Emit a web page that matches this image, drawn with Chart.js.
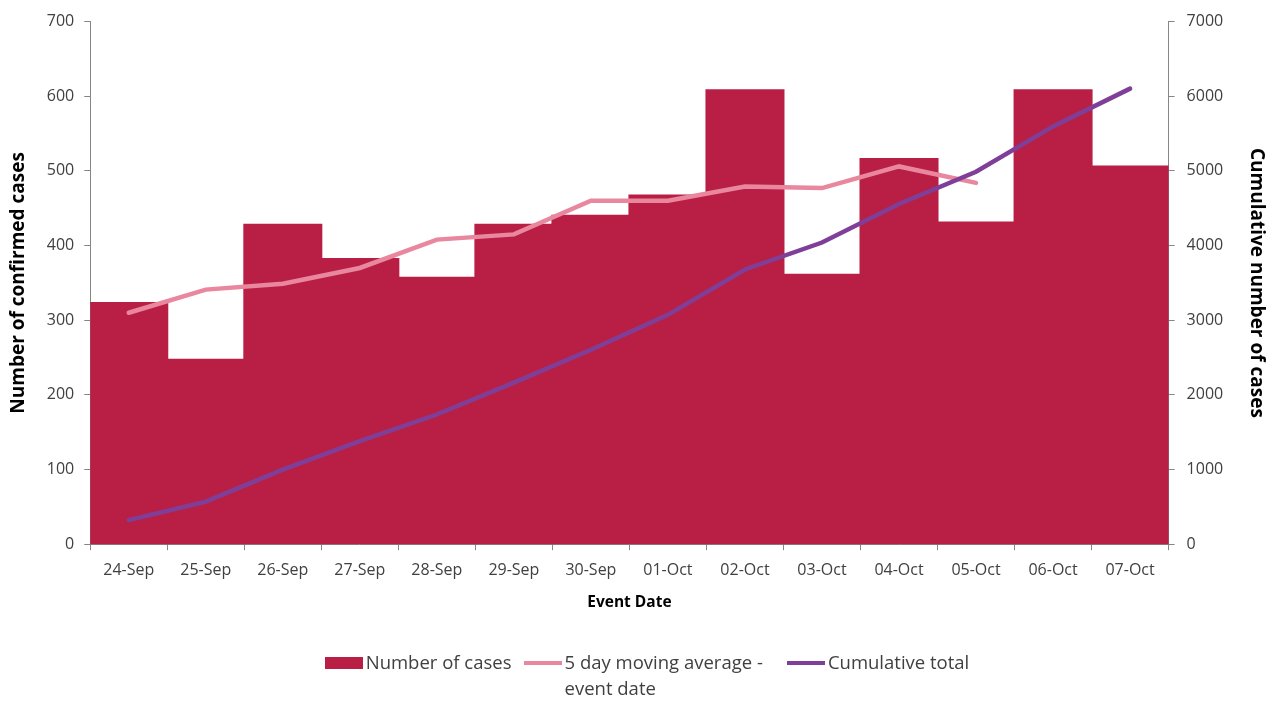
<!DOCTYPE html>
<html>
<head>
<meta charset="utf-8">
<script src="https://cdn.jsdelivr.net/npm/chart.js@4"></script>
<style>
  html, body { margin: 0; padding: 0; background: #fff; }
  #wrap { position: relative; width: 1274px; height: 704px; }
  #legend { position: absolute; left: 10px; top: 649px; width: 1274px; display: flex; justify-content: center;
    font-family: "Open Sans", "Liberation Sans", sans-serif; font-size: 18.5px; line-height: 26px; color: #404040; }
  .item { display: flex; align-items: flex-start; margin: 0 6px; }
  .sw { display: inline-block; margin-right: 3px; }
</style>
</head>
<body>
<div id="wrap">
  <canvas id="chart" width="1274" height="704"></canvas>
  <div id="legend">
    <div class="item"><span class="sw" style="width:38px;height:12px;background:#B91F44;margin-top:8px"></span>Number of cases</div>
    <div class="item" style="margin-right:18px"><span class="sw" style="width:38px;height:4px;background:#E8879E;margin-top:12px"></span><span>5 day moving average -<br>event date</span></div>
    <div class="item"><span class="sw" style="width:38px;height:4px;background:#7F3F98;margin-top:12px"></span>Cumulative total</div>
  </div>
</div>
<script>
const dates = ['24-Sep', '25-Sep', '26-Sep', '27-Sep', '28-Sep', '29-Sep', '30-Sep', '01-Oct', '02-Oct', '03-Oct', '04-Oct', '05-Oct', '06-Oct', '07-Oct'];
const cases = [323, 247, 428, 382, 357, 428, 440, 467, 608, 361, 516, 431, 608, 506];
const movingAvg = [310, 341, 349, 370, 408, 415, 460, 460, 479, 477, 506, 484, null, null];
const cumulative = [323, 570, 998, 1380, 1737, 2165, 2605, 3072, 3680, 4041, 4557, 4988, 5596, 6102];

const family = '"Open Sans", "Liberation Sans", sans-serif';
const tickFont = { family: family, size: 16 };
const titleFont = { family: family, size: 19, weight: 'bold' };
const axisGrid = { display: true, drawOnChartArea: false, color: '#868686', tickLength: 6 };

new Chart(document.getElementById('chart').getContext('2d'), {
    data: {
        labels: dates,
        datasets: [{
            type: 'bar',
            label: 'Number of cases',
            data: cases,
            backgroundColor: '#B91F44',
            borderWidth: 0,
            inflateAmount: 1,
            barPercentage: 1,
            categoryPercentage: 1,
            yAxisID: 'y',
            order: 3
        }, {
            type: 'line',
            label: '5 day moving average - event date',
            data: movingAvg,
            borderColor: '#E8879E',
            borderWidth: 4.5,
            pointRadius: 0,
            borderCapStyle: 'round',
            yAxisID: 'y',
            order: 2
        }, {
            type: 'line',
            label: 'Cumulative total',
            data: cumulative,
            borderColor: '#7F3F98',
            borderWidth: 4.5,
            pointRadius: 0,
            borderCapStyle: 'round',
            yAxisID: 'y1',
            order: 1
        }]
    },
    options: {
        responsive: false,
        animation: false,
        layout: { padding: { top: 15, left: 3, right: 2, bottom: 88 } },
        plugins: {
            legend: { display: false },
            tooltip: { enabled: false }
        },
        scales: {
            x: {
                grid: axisGrid,
                border: { color: '#868686' },
                ticks: { font: tickFont, color: '#404040', maxRotation: 0, padding: 11 },
                title: { display: true, text: 'Event Date', font: { family: family, size: 15.5, weight: 'bold' }, color: '#000', padding: { top: 2 } }
            },
            y: {
                position: 'left',
                min: 0,
                max: 700,
                ticks: { stepSize: 100, font: tickFont, color: '#404040', padding: 10 },
                grid: axisGrid,
                border: { color: '#868686' },
                title: { display: true, text: 'Number of confirmed cases', font: titleFont, color: '#000', padding: { top: 4, bottom: 7 } }
            },
            y1: {
                position: 'right',
                min: 0,
                max: 7000,
                ticks: { stepSize: 1000, font: tickFont, color: '#404040', padding: 12, callback: v => String(v) },
                grid: axisGrid,
                border: { color: '#868686' },
                title: { display: true, text: 'Cumulative number of cases', font: titleFont, color: '#000', padding: { top: 4, bottom: 10 } }
            }
        }
    }
});
</script>
</body>
</html>
